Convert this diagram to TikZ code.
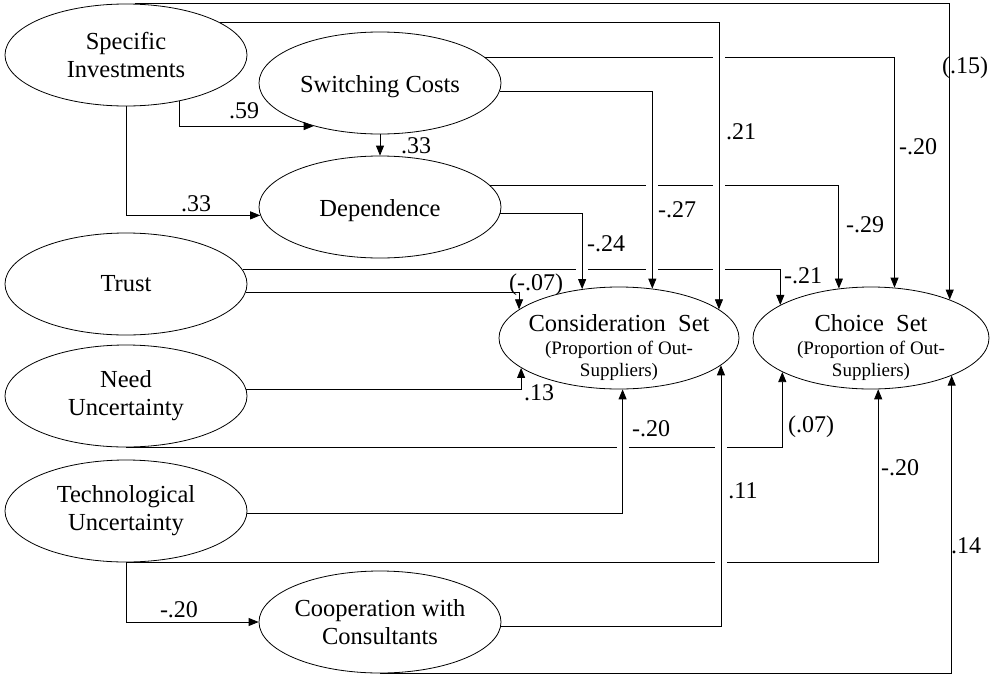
\documentclass[tikz,border=0pt]{standalone}
\usepackage{fontspec}
\setmainfont{Liberation Serif}
\usetikzlibrary{shapes.geometric,arrows.meta}
\pgfdeclarelayer{bg}
\pgfsetlayers{bg,main}
\newcommand\propfont{\fontsize{19}{22}\selectfont}

\begin{document}
\begin{tikzpicture}[x=1pt,y=-1pt,
    latent/.style={draw,ellipse,line width=.8pt,minimum width=242pt,minimum height=102pt,
      inner sep=0pt,align=center,font=\fontsize{24.5}{28}\selectfont},
    outcome/.style={latent,minimum width=240pt,inner xsep=-8pt,inner ysep=-8pt},
    link/.style={line width=.8pt,-{Triangle[length=10pt,width=8pt]}},
    hop/.style={preaction={draw=white,line width=12pt,arrows=-}},
    coef/.style={anchor=base,inner sep=0pt,font=\fontsize{24}{28}\selectfont}]
  \useasboundingbox (0,0) rectangle (990,675);
  \node[latent] (si) at (126,55) {Specific\\Investments};
  \node[latent,text height=23pt,text depth=5pt] (sc) at (380,83) {Switching Costs};
  \node[latent,text height=23pt,text depth=5pt] (dep) at (380,207) {Dependence};
  \node[latent] (tr) at (126,284) {Trust};
  \node[latent] (nu) at (126,396) {Need\\Uncertainty};
  \node[latent] (tu) at (126,511) {Technological\\Uncertainty};
  \node[latent] (coop) at (380,622) {Cooperation with\\Consultants};
  \node[outcome] (cs) at (619,338)
    {\rule{0pt}{37pt}Consideration~~Set\\[-5pt]\propfont (Proportion of Out-\\[-6pt]\propfont Suppliers)};
  \node[outcome,minimum width=236pt] (chs) at (871,338)
    {\rule{0pt}{37pt}Choice~~Set\\[-5pt]\propfont (Proportion of Out-\\[-6pt]\propfont Suppliers)};
  \begin{pgfonlayer}{bg}
    \foreach \s/\t in {si.80/chs.26, sc.14/chs.65, dep.11/chs.123, tr.7/chs.160,
        tr.-4/cs.164, nu.3/cs.197, nu.south/chs.201, tu.south/chs.-82, coop.south/chs.-25}{%
      \draw[link] (\s) -| (\t);
    }
    % the lines below cut the ones they cross
    \foreach \s/\t in {si.19/cs.16, sc.-4/cs.56, dep.-3/cs.127, tu.-1/cs.-86, coop.-2/cs.-15}{%
      \draw[link,hop] (\s) -| (\t);
    }
    \draw[link] (si.-41) |- (sc.213);
    \draw[link] (si.south) |- (dep.184);
    \draw[link] (tu.south) |- (coop.west);
    \draw[link] (sc.south) -- (dep.north);
  \end{pgfonlayer}
  \foreach \x/\y/\v [count=\i] in {965/73/{(.15)}, 741/139/.21, 244/118/.59, 416/153/.33,
      196/211/.33, 918/154/-.20, 677/217/-.27, 865/232/-.29, 606/251/-.24, 803/283/-.21,
      536/290/{(-.07)}, 539/400/.13, 651/436/-.20, 811/432/{(.07)}, 900/475/-.20,
      743/498/.11, 966/553/.14, 179/617/-.20}{%
    \node[coef] (k\i) at (\x,\y) {\v};
  }
\end{tikzpicture}
\end{document}
